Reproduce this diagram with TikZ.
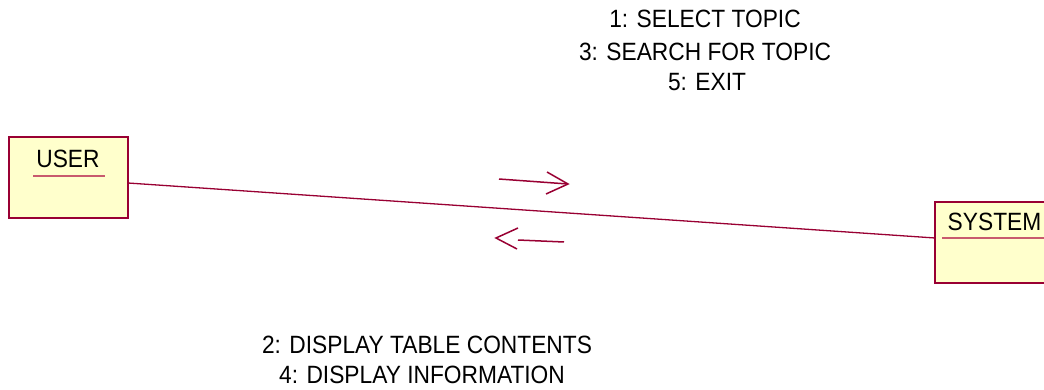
\documentclass[tikz,border=0pt]{standalone}
\usepackage{fontspec}
\newfontfamily\labfont[FakeStretch=0.91]{Liberation Sans}
\definecolor{umlline}{RGB}{153,0,51}
\definecolor{umlfill}{RGB}{255,255,204}
\definecolor{umlunder}{RGB}{200,90,110}
\begin{document}
\begin{tikzpicture}[x=1pt,y=-1pt,
  objbox/.style={draw=umlline, fill=umlfill, line width=1.2pt, minimum width=119pt, minimum height=81pt, inner sep=0pt},
  lab/.style={font=\labfont\fontsize{25}{30}\selectfont, text=black, inner sep=0pt, anchor=base},
  link/.style={draw=umlline, line width=1.3pt},
  under/.style={draw=umlunder, line width=1.6pt},
  msg/.style={draw=umlline, line width=1.5pt}]
\useasboundingbox (0,0) rectangle (1044,390);
\begin{scope}
\clip (0,0) rectangle (1044,390);
% objects
\node[objbox] (user) at (68.5,177.5) {};
\node[objbox] (system) at (994.5,242.5) {};
\node[lab] (usert) at (68,168) {USER};
\node[lab] (systemt) at (994.5,231) {SYSTEM};
\coordinate (uu1) at (33,176); \coordinate (uu2) at (105,176);
\coordinate (su1) at (942,238); \coordinate (su2) at (1047,238);
\draw[under] (uu1) -- (uu2);
\draw[under] (su1) -- (su2);
% link
\coordinate (la) at (128,183);
\coordinate (lb) at (935,238);
\draw[link] (la) -- (lb);
% message arrows
\coordinate (f1) at (499,179); \coordinate (f2) at (568,184);
\coordinate (f3) at (547,172); \coordinate (f4) at (546,194);
\draw[msg] (f1) -- (f2);
\draw[msg, line join=miter] (f3) -- (f2) -- (f4);
\coordinate (b1) at (564,242); \coordinate (b2) at (518,240);
\coordinate (b0) at (496,238); \coordinate (b3) at (518,228); \coordinate (b4) at (517,249);
\draw[msg] (b1) -- (b2);
\draw[msg, line join=miter] (b3) -- (b0) -- (b4);
\end{scope}
% message labels
\node[lab] (m1) at (705,28) {1: SELECT TOPIC};
\node[lab] (m3) at (705,61) {3: SEARCH FOR TOPIC};
\node[lab] (m5) at (707,91) {5: EXIT};
\node[lab] (m2) at (427,353) {2: DISPLAY TABLE CONTENTS};
\node[lab] (m4) at (422,383) {4: DISPLAY INFORMATION};
\end{tikzpicture}
\end{document}
